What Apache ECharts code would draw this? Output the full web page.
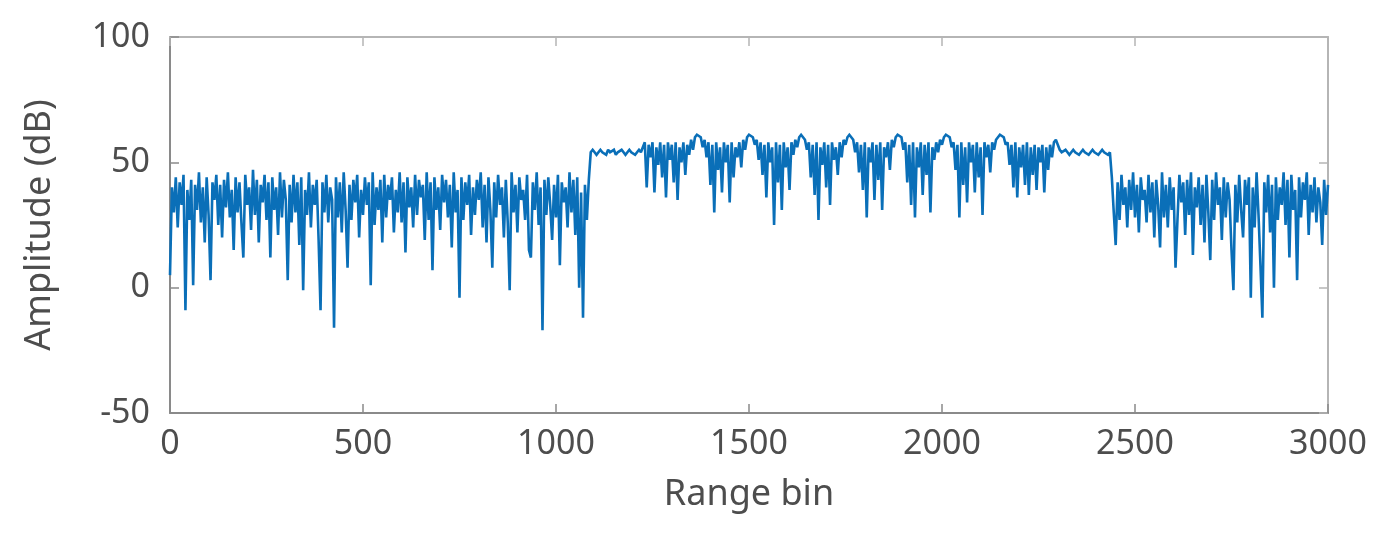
<!DOCTYPE html>
<html>
<head>
<meta charset="utf-8">
<script src="https://cdn.jsdelivr.net/npm/echarts@6/dist/echarts.min.js"></script>
<style>
  html, body { margin: 0; padding: 0; background: #fff; }
  #chart { width: 1378px; height: 543px; }
</style>
</head>
<body>
<div id="chart"></div>
<script>
// range-bin spacing of the samples below
const STEP = 5;

// bins 0..1085 : near clutter
const nearClutter = [
  5, 40, 30, 44, 24, 42, 33, 45, -9, 39,
  27, 43, 1, 41, 31, 46, 26, 40, 18, 44,
  29, 3, 42, 35, 45, 25, 41, 20, 43, 32,
  46, 28, 39, 15, 44, 30, 42, 26, 12, 45,
  33, 40, 23, 47, 29, 43, 18, 41, 34, 45,
  27, 42, 12, 44, 31, 40, 21, 46, 28, 43,
  35, 3, 41, 26, 45, 30, 42, 17, 44, -1,
  39, 29, 46, 24, 41, 33, 43, 19, -9, 42,
  30, 45, 26, 40, 35, -16, 44, 28, 42, 22,
  46, 31, 8, 41, 27, 43, 34, 45, 20, 39,
  29, 44, 33, 42, 1, 46, 25, 40, 31, 43,
  18, 45, 28, 41, 35, 44, 22, 39, 30, 46,
  26, 42, 14, 44, 32, 40, 24, 45, 29, 43,
  36, 41, 19, 46, 27, 42, 7, 44, 31, 40,
  23, 45, 34, 43, 28, 41, 16, 46, 30, 39,
  -4, 44, 27, 42, 33, 45, 21, 40, 29, 43,
  35, 46, 24, 41, 18, 44, 31, 8, 42, 28,
  45, 33, 40, 20, 43, 26, -1, 46, 30, 41,
  22, 44, 35, 39, 27, 45, 15, 12, 42, 31,
  46, 25, 40, -17, 43, 29, 44, 33, 19, 41,
  28, 45, 9, 42, 34, 40, 24, 46, 30, 43,
  21, 44, 0, 38, -12, 41, 27, 43
];

// bins 1090..1225 : flat level
const plateauA = [
  54, 55, 54, 53, 54, 55, 54, 54, 53, 55,
  54, 54, 55, 53, 54, 54, 55, 54, 53, 54,
  55, 54, 54, 53, 54, 55, 54, 54
];

// bins 1230..2305 : target zone
const targetZone = [
  58, 40, 57, 52, 58, 38, 56, 49, 58, 44,
  57, 36, 58, 51, 57, 42, 58, 35, 56, 50,
  58, 45, 57, 53, 59, 55, 60, 61, 61, 60,
  56, 59, 52, 58, 41, 57, 30, 58, 47, 56,
  38, 58, 50, 57, 34, 58, 44, 56, 52, 58,
  48, 59, 55, 60, 61, 61, 60, 57, 59, 51,
  58, 45, 57, 36, 58, 50, 56, 25, 58, 42,
  57, 31, 58, 48, 56, 39, 58, 53, 59, 56,
  60, 61, 61, 59, 55, 58, 44, 57, 37, 58,
  27, 56, 49, 58, 40, 57, 33, 58, 51, 56,
  45, 58, 52, 59, 57, 60, 61, 61, 59, 54,
  58, 46, 57, 39, 58, 28, 56, 50, 58, 35,
  57, 43, 58, 31, 56, 52, 58, 47, 59, 56,
  60, 61, 61, 60, 55, 58, 42, 57, 33, 58,
  28, 56, 48, 58, 37, 57, 45, 58, 30, 56,
  51, 58, 54, 59, 57, 60, 61, 61, 60, 56,
  58, 47, 57, 28, 58, 41, 56, 34, 58, 50,
  57, 38, 58, 44, 56, 29, 58, 52, 57, 46,
  58, 55, 59, 60, 61, 61, 60, 57, 58, 49,
  57, 40, 58, 36, 56, 48, 57, 41, 58, 37,
  56, 45, 57, 39, 56, 50, 57, 38, 56, 47,
  57, 52, 58, 59, 57, 55
];

// bins 2310..2435 : flat level
const plateauB = [
  54, 54, 55, 54, 53, 54, 55, 54, 54, 53,
  54, 55, 54, 54, 53, 54, 55, 54, 54, 53,
  54, 55, 54, 54, 53, 54
];

// bins 2440..3000 : far clutter
const farClutter = [
  44, 30, 17, 42, 27, 45, 33, 40, 24, 43,
  31, 46, 28, 41, 22, 44, 35, 39, 26, 45,
  30, 42, 20, 43, 33, 16, 46, 28, 41, 24,
  44, 31, 40, 8, 27, 45, 34, 42, 21, 43,
  29, 46, 13, 40, 32, 44, 25, 41, 18, 45,
  30, 11, 43, 27, 46, 33, 40, 19, 44, 28,
  42, 35, 15, -1, 41, 26, 45, 31, 20, 43,
  33, 44, -4, 40, 24, 46, 29, 9, -12, 42,
  30, 45, 22, 41, 0, 44, 27, 40, 33, 46,
  25, 43, 12, 45, 31, 39, 3, 44, 28, 42,
  35, 46, 21, 41, 30, 44, 26, 40, 34, 17,
  43, 29, 41
];

const amplitude = [].concat(nearClutter, plateauA, targetZone, plateauB, farClutter);
const lineData = amplitude.map((v, i) => [i * STEP, v]);

const textColor = '#4d4d4d';
const axisColor = '#8a8a8a';
const boxColor = '#b5b5b5';
const font = 'Noto Sans';

const chart = echarts.init(document.getElementById('chart'));

chart.setOption({
  animation: false,
  grid: { left: 170, right: 50, top: 37, bottom: 130 },
  xAxis: [
    {
      type: 'value', min: 0, max: 3000, interval: 500, position: 'bottom',
      splitLine: { show: false },
      axisLine: { show: true, onZero: false, lineStyle: { color: axisColor, width: 2 } },
      axisTick: { show: true, inside: true, length: 9, lineStyle: { color: axisColor, width: 1.5 } },
      name: 'Range bin', nameLocation: 'middle', nameGap: 64,
      nameTextStyle: { color: textColor, fontSize: 36, fontFamily: font },
      axisLabel: { color: textColor, fontSize: 34, fontFamily: font, margin: 14, formatter: (v) => String(v) }
    },
    {
      type: 'value', min: 0, max: 3000, interval: 500, position: 'top',
      splitLine: { show: false },
      axisLine: { show: true, onZero: false, lineStyle: { color: boxColor, width: 2 } },
      axisTick: { show: true, inside: true, length: 9, lineStyle: { color: boxColor, width: 1.5 } },
      axisLabel: { show: false }
    }
  ],
  yAxis: [
    {
      type: 'value', min: -50, max: 100, interval: 50, position: 'left',
      splitLine: { show: false },
      axisLine: { show: true, onZero: false, lineStyle: { color: axisColor, width: 2 } },
      axisTick: { show: true, inside: true, length: 9, lineStyle: { color: axisColor, width: 1.5 } },
      name: 'Amplitude (dB)', nameLocation: 'middle', nameGap: 112,
      nameTextStyle: { color: textColor, fontSize: 36, fontFamily: font },
      axisLabel: { color: textColor, fontSize: 34, fontFamily: font, margin: 20 }
    },
    {
      type: 'value', min: -50, max: 100, interval: 50, position: 'right',
      splitLine: { show: false },
      axisLine: { show: true, onZero: false, lineStyle: { color: boxColor, width: 2 } },
      axisTick: { show: true, inside: true, length: 9, lineStyle: { color: boxColor, width: 1.5 } },
      axisLabel: { show: false }
    }
  ],
  series: [
    {
      type: 'line',
      data: lineData,
      showSymbol: false,
      sampling: null,
      lineStyle: { color: '#0a6fb8', width: 2.6, join: 'miter', miterLimit: 2 },
      xAxisIndex: 0,
      yAxisIndex: 0
    }
  ]
});
</script>
</body>
</html>
